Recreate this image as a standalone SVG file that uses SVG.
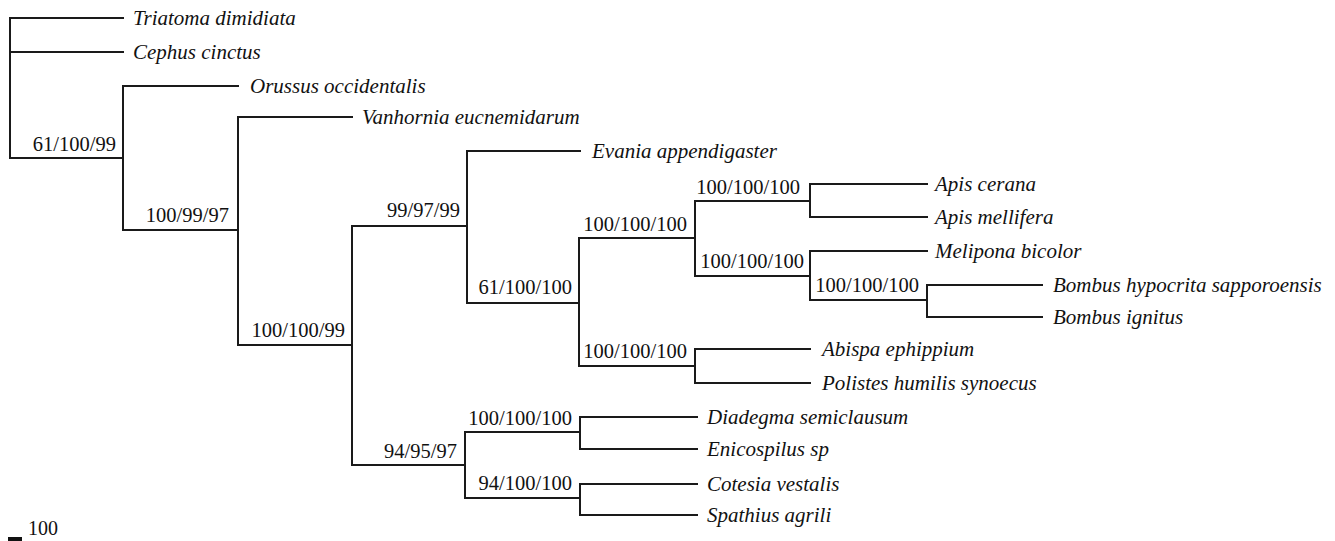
<svg xmlns="http://www.w3.org/2000/svg" width="1335" height="541" viewBox="0 0 1335 541">
<style>
.e{fill:none;stroke:#1a1a1a;stroke-width:2;stroke-linecap:square}
.t{font-family:"Liberation Serif","Times New Roman",serif;font-style:italic;font-size:21px;fill:#111}
.s{font-family:"Liberation Serif","Times New Roman",serif;font-size:20.5px;fill:#111;text-anchor:end}
.sc{font-family:"Liberation Serif","Times New Roman",serif;font-size:20px;fill:#111}
</style>
<rect width="1335" height="541" fill="#fff"/>
<g id="connectors">
<path class="e" d="M123 18H10V158H123"/>
<path class="e" d="M10 52H123"/>
<path class="e" d="M238 86H123V230H238"/>
<path class="e" d="M352 117H238V345H352"/>
<path class="e" d="M467 226H352V465H465"/>
<path class="e" d="M580 151H467V303H579"/>
<path class="e" d="M695 238H579V366H695"/>
<path class="e" d="M810 201H695V276H810"/>
<path class="e" d="M927 184H810V217H927"/>
<path class="e" d="M927 251H810V300H927"/>
<path class="e" d="M1042 285H927V317H1042"/>
<path class="e" d="M810 349H695V383H810"/>
<path class="e" d="M580 432H465V498H580"/>
<path class="e" d="M697 417H580V449H697"/>
<path class="e" d="M697 484H580V515H697"/>
</g>
<g id="leaf-triatoma"><text class="t" x="133" y="25">Triatoma dimidiata</text></g>
<g id="leaf-cephus"><text class="t" x="133" y="59">Cephus cinctus</text></g>
<g id="leaf-orussus"><text class="t" x="250" y="93">Orussus occidentalis</text></g>
<g id="leaf-vanhornia"><text class="t" x="362" y="124">Vanhornia eucnemidarum</text></g>
<g id="leaf-evania"><text class="t" x="592" y="158">Evania appendigaster</text></g>
<g id="leaf-apis-cerana"><text class="t" x="935" y="191">Apis cerana</text></g>
<g id="leaf-apis-mellifera"><text class="t" x="935" y="224">Apis mellifera</text></g>
<g id="leaf-melipona"><text class="t" x="935" y="258">Melipona bicolor</text></g>
<g id="leaf-bombus-hyp"><text class="t" x="1053" y="292">Bombus hypocrita sapporoensis</text></g>
<g id="leaf-bombus-ign"><text class="t" x="1053" y="324">Bombus ignitus</text></g>
<g id="leaf-abispa"><text class="t" x="822" y="356">Abispa ephippium</text></g>
<g id="leaf-polistes"><text class="t" x="822" y="390">Polistes humilis synoecus</text></g>
<g id="leaf-diadegma"><text class="t" x="707" y="424">Diadegma semiclausum</text></g>
<g id="leaf-enicospilus"><text class="t" x="707" y="456">Enicospilus sp</text></g>
<g id="leaf-cotesia"><text class="t" x="707" y="491">Cotesia vestalis</text></g>
<g id="leaf-spathius"><text class="t" x="707" y="522">Spathius agrili</text></g>
<g id="node-1"><text class="s" x="116" y="151">61/100/99</text></g>
<g id="node-2"><text class="s" x="229" y="222">100/99/97</text></g>
<g id="node-3"><text class="s" x="345" y="337">100/100/99</text></g>
<g id="node-4"><text class="s" x="460" y="217">99/97/99</text></g>
<g id="node-5"><text class="s" x="572" y="294">61/100/100</text></g>
<g id="node-6"><text class="s" x="687" y="231">100/100/100</text></g>
<g id="node-7"><text class="s" x="800" y="194">100/100/100</text></g>
<g id="node-8"><text class="s" x="804" y="268">100/100/100</text></g>
<g id="node-9"><text class="s" x="919" y="292">100/100/100</text></g>
<g id="node-10"><text class="s" x="687" y="358">100/100/100</text></g>
<g id="node-11"><text class="s" x="457" y="458">94/95/97</text></g>
<g id="node-12"><text class="s" x="572" y="425">100/100/100</text></g>
<g id="node-13"><text class="s" x="572" y="490">94/100/100</text></g>
<g id="scale-bar">
<rect x="8" y="537" width="14" height="4" fill="#111"/>
<text class="sc" x="28" y="535">100</text>
</g>
</svg>
